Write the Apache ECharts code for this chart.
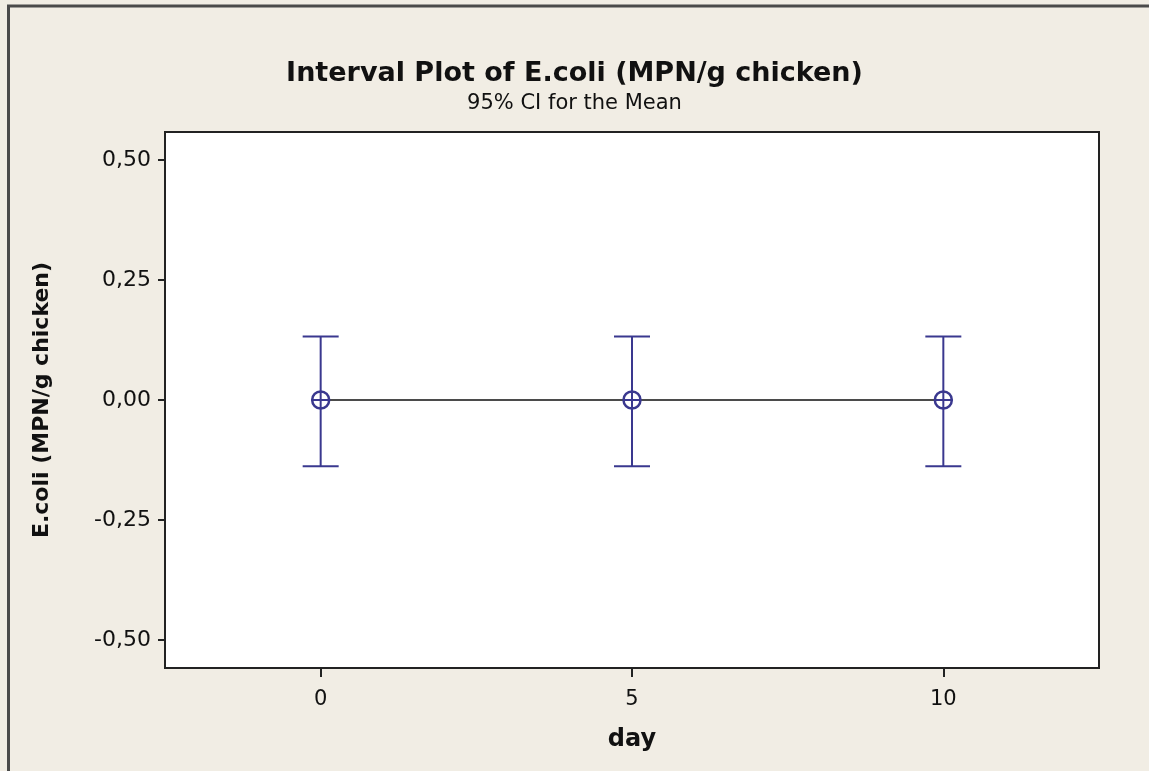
<!DOCTYPE html>
<html>
<head>
<meta charset="utf-8">
<script src="https://cdn.jsdelivr.net/npm/echarts@6/dist/echarts.min.js"></script>
<style>
  html, body { margin: 0; padding: 0; background: #f1ede4; }
  #chart { width: 1149px; height: 771px; }
</style>
</head>
<body>
<div id="chart"></div>
<script>
// Days sampled and the interval for each day's mean
const days = [0, 5, 10];
const means = [0, 0, 0];
const lowerCI = [-0.138, -0.138, -0.138];
const upperCI = [0.132, 0.132, 0.132];
const xTicks = [0, 5, 10];
const yTicks = [-0.5, -0.25, 0, 0.25, 0.5];

const barColor = '#3a388f';
const fontFamily = '"DejaVu Sans", Tahoma, Verdana, sans-serif';

const intervalData = days.map((d, i) => [d, means[i], lowerCI[i], upperCI[i]]);

function renderInterval(params, api) {
  const x = api.value(0);
  const top = api.coord([x, api.value(3)]);
  const bottom = api.coord([x, api.value(2)]);
  const mid = api.coord([x, api.value(1)]);
  const capHalf = 18;
  const r = 8.5;
  const style = { stroke: barColor, lineWidth: 2, fill: null };
  return {
    type: 'group',
    children: [
      { type: 'line', shape: { x1: top[0], y1: top[1], x2: bottom[0], y2: bottom[1] }, style },
      { type: 'line', shape: { x1: top[0] - capHalf, y1: top[1], x2: top[0] + capHalf, y2: top[1] }, style },
      { type: 'line', shape: { x1: bottom[0] - capHalf, y1: bottom[1], x2: bottom[0] + capHalf, y2: bottom[1] }, style },
      { type: 'circle', shape: { cx: mid[0], cy: mid[1], r: r }, style: { stroke: barColor, lineWidth: 2.5, fill: '#ffffff' } },
      { type: 'line', shape: { x1: mid[0] - r, y1: mid[1], x2: mid[0] + r, y2: mid[1] }, style },
      { type: 'line', shape: { x1: mid[0], y1: mid[1] - r, x2: mid[0], y2: mid[1] + r }, style }
    ]
  };
}

const chart = echarts.init(document.getElementById('chart'));
chart.setOption({
  backgroundColor: '#f1ede4',
  animation: false,
  title: {
    text: 'Interval Plot of E.coli (MPN/g chicken)',
    subtext: '95% CI for the Mean',
    left: 'center',
    top: 55,
    itemGap: 6,
    textStyle: { fontFamily, fontSize: 27, fontWeight: 'bold', color: '#111' },
    subtextStyle: { fontFamily, fontSize: 21, color: '#111' }
  },
  graphic: [
    { type: 'line', shape: { x1: 8.5, y1: 6, x2: 8.5, y2: 771 }, style: { stroke: '#4a4a4a', lineWidth: 3 } },
    { type: 'line', shape: { x1: 7, y1: 6, x2: 1149, y2: 6 }, style: { stroke: '#4a4a4a', lineWidth: 3 } }
  ],
  grid: {
    left: 165, top: 132, right: 50, bottom: 103,
    show: true, backgroundColor: '#ffffff', borderColor: '#222', borderWidth: 2
  },
  xAxis: {
    type: 'value',
    min: -2.5, max: 12.5,
    name: 'day',
    nameLocation: 'middle',
    nameGap: 60,
    nameTextStyle: { fontFamily, fontSize: 24, fontWeight: 'bold', color: '#111' },
    axisLine: { show: true, onZero: false, lineStyle: { color: '#222', width: 2 } },
    axisTick: { show: true, length: 9, customValues: xTicks, lineStyle: { color: '#222', width: 2 } },
    axisLabel: { customValues: xTicks, margin: 21, fontFamily, fontSize: 21, color: '#111' },
    splitLine: { show: false }
  },
  yAxis: {
    type: 'value',
    min: -0.558, max: 0.558,
    name: 'E.coli (MPN/g chicken)',
    nameLocation: 'middle',
    nameGap: 112,
    nameTextStyle: { fontFamily, fontSize: 22, fontWeight: 'bold', color: '#111' },
    axisLine: { show: true, onZero: false, lineStyle: { color: '#222', width: 2 } },
    axisTick: { show: true, length: 7, customValues: yTicks, lineStyle: { color: '#222', width: 2 } },
    axisLabel: {
      customValues: yTicks, margin: 14, fontFamily, fontSize: 22, color: '#111',
      formatter: v => v.toFixed(2).replace('.', ',')
    },
    splitLine: { show: false }
  },
  series: [
    {
      type: 'line',
      data: days.map((d, i) => [d, means[i]]),
      showSymbol: false,
      lineStyle: { color: '#111', width: 1.5 },
      z: 2
    },
    {
      type: 'custom',
      data: intervalData,
      renderItem: renderInterval,
      encode: { x: 0, y: [1, 2, 3] },
      z: 3
    }
  ]
});
</script>
</body>
</html>
